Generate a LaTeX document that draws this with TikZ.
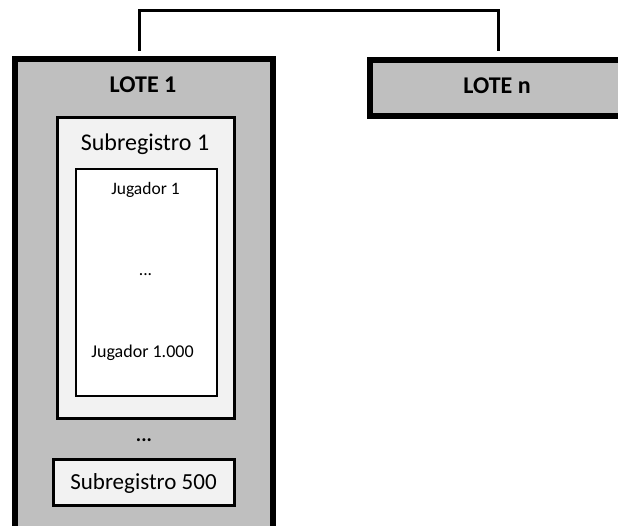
\documentclass[tikz,border=0pt]{standalone}
\usepackage{fontspec}
\setmainfont{Carlito}
\definecolor{lotegray}{HTML}{BFBFBF}
\definecolor{subgray}{HTML}{F2F2F2}
\begin{document}
\begin{tikzpicture}[x=1pt,y=-1pt,
  lotebox/.style={draw=black,line width=6pt,fill=lotegray},
  subbox/.style={draw=black,line width=3pt,fill=subgray},
  jugbox/.style={draw=black,line width=1.5pt,fill=white},
  conn/.style={draw=black,line width=3pt},
  lbl/.style={inner sep=0pt,anchor=center}]
\useasboundingbox (0,0) rectangle (618,526);
\begin{scope}
\clip (0,0) rectangle (618,526);
% boxes
\node[lotebox,minimum width=258pt,minimum height=500pt,inner sep=0pt] (lote1) at (144,309) {};
\node[lotebox,minimum width=260pt,minimum height=56pt,inner sep=0pt] (loten) at (500,88) {};
\node[subbox,minimum width=177pt,minimum height=301pt,inner sep=0pt] (sub1) at (146,268) {};
\node[jugbox,minimum width=141pt,minimum height=227pt,inner sep=0pt] (jug) at (146.5,282.5) {};
\node[subbox,minimum width=181pt,minimum height=45.5pt,inner sep=0pt] (sub500) at (144,482.25) {};
% connector
\coordinate (c1) at (139.5,11);
\coordinate (c2) at (498.5,11);
\draw[conn] (139.5,51) |- (c1) -- (c2) -- (498.5,51);
\end{scope}
% texts
\node[lbl,font=\fontsize{24}{27}\selectfont\bfseries] (t1) at (143,85) {LOTE 1};
\node[lbl,font=\fontsize{24}{27}\selectfont\bfseries] (tn) at (497,86) {LOTE n};
\node[lbl,font=\fontsize{24}{27}\selectfont] (ts1) at (145,144) {Subregistro 1};
\node[lbl,font=\fontsize{17.5}{20}\selectfont] (tj1) at (145.5,190) {Jugador 1};
\node[lbl,font=\fontsize{17.5}{20}\selectfont] (tdots) at (145.5,275) {...};
\node[lbl,font=\fontsize{18}{20}\selectfont] (tj2) at (142.5,353) {Jugador 1.000};
\node[lbl,font=\fontsize{20}{24}\selectfont\bfseries] (tdots2) at (144,440) {...};
\node[lbl,font=\fontsize{23}{26}\selectfont] (ts500) at (143.5,483) {Subregistro 500};
\end{tikzpicture}
\end{document}
